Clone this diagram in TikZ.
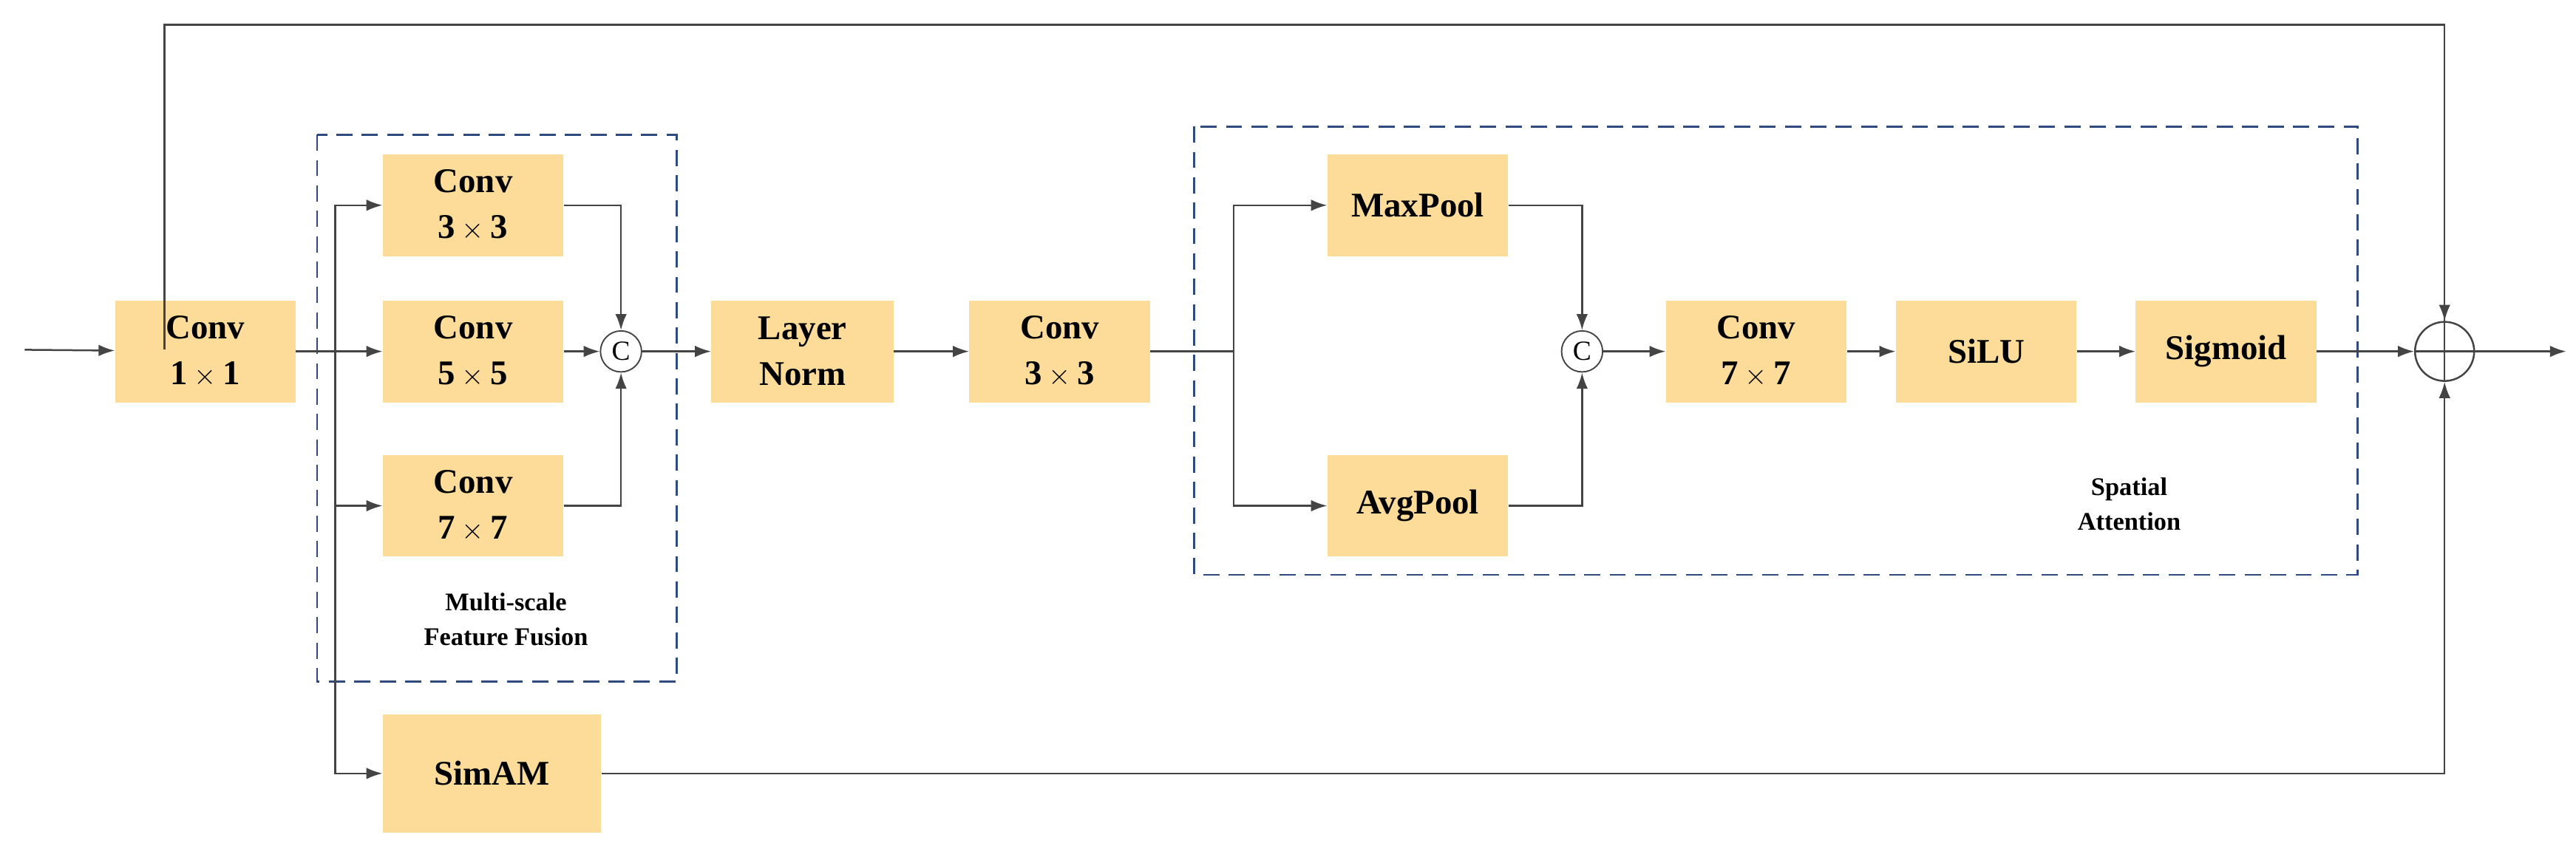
\documentclass[tikz,border=0pt]{standalone}
\usepackage{fontspec}
\setmainfont{Liberation Serif}
\usetikzlibrary{arrows.meta}
\definecolor{boxc}{HTML}{FDDC9A}
\definecolor{dashc}{HTML}{2F4A7F}
\definecolor{linec}{HTML}{444444}
\begin{document}
\begin{tikzpicture}[x=0.05cm,y=-0.05cm,
  blk/.style={fill=boxc,draw=none,minimum width=5.5cm,minimum height=3.1cm,align=center,font=\bfseries\fontsize{30}{40}\selectfont,inner sep=0pt},
  cc/.style={circle,draw=linec,line width=1.2pt,minimum size=1.25cm,inner sep=0pt,font=\fontsize{24}{24}\selectfont},
  ln/.style={draw=linec,line width=1.6pt},
  ar/.style={ln,-{Latex[length=14pt,width=10pt]}},
  dsh/.style={draw=dashc,line width=1.8pt,dash pattern=on 14pt off 8pt},
  lab/.style={align=center,font=\bfseries\fontsize{22}{30}\selectfont}]
\useasboundingbox (0,0) rectangle (1568,523.7);
\node[blk] (c1) at (125,214) {Conv\\$\mathbf{1\times1}$};
\node[blk] (c3) at (288,125) {Conv\\$\mathbf{3\times3}$};
\node[blk] (c5) at (288,214) {Conv\\$\mathbf{5\times5}$};
\node[blk] (c7) at (288,308) {Conv\\$\mathbf{7\times7}$};
\node[blk,minimum width=6.65cm,minimum height=3.6cm] (sim) at (299.5,471) {SimAM};
\node[cc] (cat1) at (378,214) {C};
\node[blk,minimum width=5.55cm] (ln) at (488.5,214) {Layer\\Norm};
\node[blk] (c3b) at (645,214) {Conv\\$\mathbf{3\times3}$};
\node[blk] (mp) at (863,125) {MaxPool};
\node[blk] (ap) at (863,308) {AvgPool};
\node[cc] (cat2) at (963,214) {C};
\node[blk] (c7b) at (1069,214) {Conv\\$\mathbf{7\times7}$};
\node[blk] (silu) at (1209,214) {SiLU};
\node[blk] (sig) at (1355,214) {Sigmoid};
\node[circle,draw=linec,line width=1.6pt,minimum size=1.8cm,inner sep=0pt] (add) at (1488,214) {};
\draw[ln] (add.north) -- (add.south) (add.west) -- (add.east);
\node[lab] (msf) at (308,377) {Multi-scale\\Feature Fusion};
\node[lab] (sa) at (1296,307) {Spatial\\Attention};
\draw[dsh] (193,82) rectangle (412,415);
\draw[dsh] (727,77) rectangle (1435,350);
\coordinate (in) at (15,213);
\coordinate (out) at (1562,214);
\coordinate (sp1) at (204,214);
\coordinate (sp2) at (751,214);
% main
\draw[ar] (in) -- (c1);
\draw[ln] (100,213) |- (1488,15) -- (add.north);
\draw[ar] (1488,15) -- (add.north);
\draw[ar] (c1) -- (c5);
\draw[ar] (sp1) |- (c3);
\draw[ar] (sp1) |- (c7);
\draw[ar] (sp1) |- (sim);
\draw[ar] (c3) -| (cat1);
\draw[ar] (c7) -| (cat1);
\draw[ar] (c5) -- (cat1);
\draw[ar] (cat1) -- (ln);
\draw[ar] (ln) -- (c3b);
\draw[ln] (c3b) -- (sp2);
\draw[ar] (sp2) |- (mp);
\draw[ar] (sp2) |- (ap);
\draw[ar] (mp) -| (cat2);
\draw[ar] (ap) -| (cat2);
\draw[ar] (cat2) -- (c7b);
\draw[ar] (c7b) -- (silu);
\draw[ar] (silu) -- (sig);
\draw[ar] (sig) -- (add);
\draw[ar] (sim) -| (add);
\draw[ar] (add) -- (out);
\end{tikzpicture}
\end{document}
